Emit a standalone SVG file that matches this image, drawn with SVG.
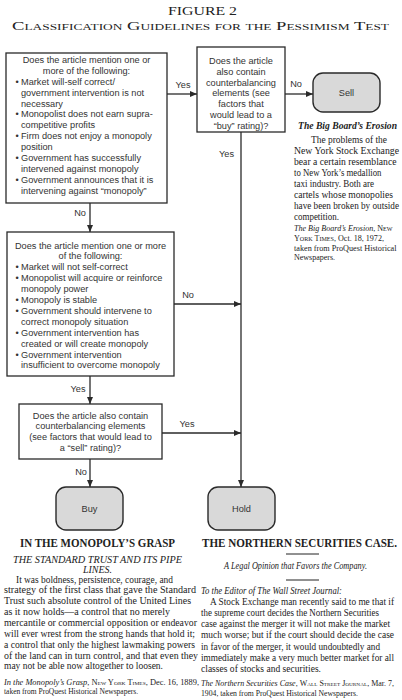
<svg xmlns="http://www.w3.org/2000/svg" width="402" height="700" viewBox="0 0 402 700">
<style>
  .box { fill: #ffffff; stroke: #2a2a2a; stroke-width: 1.3; }
  .term { fill: #d9d9d9; stroke: #2a2a2a; stroke-width: 1.4; }
  .fc { font-family: "Liberation Sans", Arial, sans-serif; font-size: 9.2px; fill: #333; }
  .mid { text-anchor: middle; }
  .lbl { font-family: "Liberation Sans", Arial, sans-serif; font-size: 9.2px; fill: #333; text-anchor: middle; }
  .conn { fill: none; stroke: #2a2a2a; stroke-width: 1.3; }
  .serif { font-family: "Liberation Serif", "Times New Roman", serif; fill: #222; }
  .body { font-size: 9.7px; }
  .body2 { font-size: 9.4px; }
  .cite { font-size: 8px; }
  .cite2 { font-size: 7.6px; }
  .sc { font-variant: small-caps; }
  .it { font-style: italic; }
  .hd { font-size: 11.5px; font-weight: bold; }
</style>
<defs>
  <marker id="arr" markerWidth="7" markerHeight="6" refX="7" refY="3" orient="auto" markerUnits="userSpaceOnUse">
    <path d="M0,0 L7,3 L0,6 z" fill="#2a2a2a"/>
  </marker>
</defs>

<g id="title" class="serif">
  <text x="202.5" y="15" font-size="12.5" text-anchor="middle" textLength="69" lengthAdjust="spacingAndGlyphs">FIGURE 2</text>
  <text x="200.5" y="30" font-size="12.5" text-anchor="middle" class="sc" textLength="377" lengthAdjust="spacingAndGlyphs">Classification Guidelines for the Pessimism Test</text>
</g>

<g id="connectors">
  <path class="conn" d="M167,94 H197" marker-end="url(#arr)"/>
  <path class="conn" d="M285,94 H313" marker-end="url(#arr)"/>
  <path class="conn" d="M90,203 V232" marker-end="url(#arr)"/>
  <path class="conn" d="M241,132 V487" marker-end="url(#arr)"/>
  <path class="conn" d="M174,304 H241" marker-end="url(#arr)"/>
  <path class="conn" d="M90,376 V404" marker-end="url(#arr)"/>
  <path class="conn" d="M162,433 H241" marker-end="url(#arr)"/>
  <path class="conn" d="M90,459 V487" marker-end="url(#arr)"/>
  <text class="lbl" x="183" y="88.3">Yes</text>
  <text class="lbl" x="296" y="87.3">No</text>
  <text class="lbl" x="226.5" y="156.5">Yes</text>
  <text class="lbl" x="80" y="216.3">No</text>
  <text class="lbl" x="188" y="298.3">No</text>
  <text class="lbl" x="78" y="392.3">Yes</text>
  <text class="lbl" x="187" y="427.3">Yes</text>
  <text class="lbl" x="81" y="475.3">No</text>
</g>

<g id="q1">
  <rect class="box" x="6" y="53" width="161" height="150"/>
  <text class="fc mid" x="86.5" y="62.8">Does the article mention one or</text>
  <text class="fc mid" x="86.5" y="73.7">more of the following:</text>
  <text class="fc" x="15.5" y="84.7">•</text><text class="fc" x="21" y="84.7">Market will-self correct/</text>
  <text class="fc" x="21" y="95.6">government intervention is not</text>
  <text class="fc" x="21" y="106.5">necessary</text>
  <text class="fc" x="15.5" y="117.4">•</text><text class="fc" x="21" y="117.4">Monopolist does not earn supra-</text>
  <text class="fc" x="21" y="128.4">competitive profits</text>
  <text class="fc" x="15.5" y="139.3">•</text><text class="fc" x="21" y="139.3">Firm does not enjoy a monopoly</text>
  <text class="fc" x="21" y="150.2">position</text>
  <text class="fc" x="15.5" y="161.2">•</text><text class="fc" x="21" y="161.2">Government has successfully</text>
  <text class="fc" x="21" y="172.1">intervened against monopoly</text>
  <text class="fc" x="15.5" y="183.1">•</text><text class="fc" x="21" y="183.1">Government announces that it is</text>
  <text class="fc" x="21" y="194">intervening against “monopoly”</text>
</g>

<g id="q2">
  <rect class="box" x="197" y="47" width="88" height="85"/>
  <text class="fc mid" x="241" y="64">Does the article</text>
  <text class="fc mid" x="241" y="74.8">also contain</text>
  <text class="fc mid" x="241" y="85.6">counterbalancing</text>
  <text class="fc mid" x="241" y="96.4">elements (see</text>
  <text class="fc mid" x="241" y="107.2">factors that</text>
  <text class="fc mid" x="241" y="118">would lead to a</text>
  <text class="fc mid" x="241" y="128.8">“buy” rating)?</text>
</g>

<g id="sell">
  <rect class="term" x="313" y="73" width="67" height="39" rx="10"/>
  <text class="fc mid" x="346.5" y="95.5" font-size="9.5">Sell</text>
</g>

<g id="q3">
  <rect class="box" x="7" y="232" width="167" height="144"/>
  <text class="fc mid" x="90.5" y="248.5">Does the article mention one or more</text>
  <text class="fc mid" x="90.5" y="259.4">of the following:</text>
  <text class="fc" x="15.5" y="270.3">•</text><text class="fc" x="21" y="270.3">Market will not self-correct</text>
  <text class="fc" x="15.5" y="281.2">•</text><text class="fc" x="21" y="281.2">Monopolist will acquire or reinforce</text>
  <text class="fc" x="21" y="292.1">monopoly power</text>
  <text class="fc" x="15.5" y="303">•</text><text class="fc" x="21" y="303">Monopoly is stable</text>
  <text class="fc" x="15.5" y="313.9">•</text><text class="fc" x="21" y="313.9">Government should intervene to</text>
  <text class="fc" x="21" y="324.8">correct monopoly situation</text>
  <text class="fc" x="15.5" y="335.7">•</text><text class="fc" x="21" y="335.7">Government intervention has</text>
  <text class="fc" x="21" y="346.6">created or will create monopoly</text>
  <text class="fc" x="15.5" y="357.5">•</text><text class="fc" x="21" y="357.5">Government intervention</text>
  <text class="fc" x="21" y="368.4">insufficient to overcome monopoly</text>
</g>

<g id="q4">
  <rect class="box" x="19" y="404" width="143" height="55"/>
  <text class="fc mid" x="90.5" y="418.5">Does the article also contain</text>
  <text class="fc mid" x="90.5" y="429.3">counterbalancing elements</text>
  <text class="fc mid" x="90.5" y="440.1">(see factors that would lead to</text>
  <text class="fc mid" x="90.5" y="450.9">a “sell” rating)?</text>
</g>

<g id="buy">
  <rect class="term" x="56" y="487" width="67" height="43" rx="10"/>
  <text class="fc mid" x="89.5" y="512" font-size="9.5">Buy</text>
</g>

<g id="hold">
  <rect class="term" x="208" y="487" width="67" height="43" rx="10"/>
  <text class="fc mid" x="241.5" y="512" font-size="9.5">Hold</text>
</g>

<g id="clip-big-board" class="serif">
  <text x="347.5" y="129" font-size="10" font-weight="bold" font-style="italic" text-anchor="middle" textLength="99" lengthAdjust="spacingAndGlyphs">The Big Board’s Erosion</text>
  <text class="body2" x="311" y="143.3" textLength="76" lengthAdjust="spacingAndGlyphs">The problems of the</text>
  <text class="body2" x="294" y="154.2" textLength="105" lengthAdjust="spacingAndGlyphs">New York Stock Exchange</text>
  <text class="body2" x="294" y="165.1" textLength="102.5" lengthAdjust="spacingAndGlyphs">bear a certain resemblance</text>
  <text class="body2" x="294" y="176" textLength="87.5" lengthAdjust="spacingAndGlyphs">to New York’s medallion</text>
  <text class="body2" x="294" y="186.9" textLength="80" lengthAdjust="spacingAndGlyphs">taxi industry. Both are</text>
  <text class="body2" x="294" y="197.8" textLength="99" lengthAdjust="spacingAndGlyphs">cartels whose monopolies</text>
  <text class="body2" x="294" y="208.7" font-size="9" textLength="105" lengthAdjust="spacingAndGlyphs">have been broken by outside</text>
  <text class="body2" x="294" y="219.6" textLength="45" lengthAdjust="spacingAndGlyphs">competition.</text>
  <text class="cite" x="294" y="231" textLength="98.5" lengthAdjust="spacingAndGlyphs"><tspan class="it">The Big Board’s Erosion</tspan>, <tspan class="sc">New</tspan></text>
  <text class="cite" x="294" y="241" textLength="90" lengthAdjust="spacingAndGlyphs"><tspan class="sc">York Times</tspan>, Oct. 18, 1972,</text>
  <text class="cite" x="294" y="250.5" textLength="102.5" lengthAdjust="spacingAndGlyphs">taken from ProQuest Historical</text>
  <text class="cite" x="294" y="259.5">Newspapers.</text>
</g>

<g id="clip-monopoly" class="serif">
  <text x="97.5" y="546.5" font-size="12.5" font-weight="bold" text-anchor="middle" textLength="155" lengthAdjust="spacingAndGlyphs">IN THE MONOPOLY’S GRASP</text>
  <text class="it" x="97.5" y="563" font-size="10" text-anchor="middle" textLength="169" lengthAdjust="spacingAndGlyphs">THE STANDARD TRUST AND ITS PIPE</text>
  <text class="it" x="97.5" y="572.5" font-size="10" text-anchor="middle">LINES.</text>
  <text class="body" x="16" y="582.6" textLength="157" lengthAdjust="spacingAndGlyphs">It was boldness, persistence, courage, and</text>
  <text class="body" x="4" y="593.4" textLength="192" lengthAdjust="spacingAndGlyphs">strategy of the first class that gave the Standard</text>
  <text class="body" x="4" y="604.3" textLength="187" lengthAdjust="spacingAndGlyphs">Trust such absolute control of the United Lines</text>
  <text class="body" x="4" y="615.1" textLength="166" lengthAdjust="spacingAndGlyphs">as it now holds—a control that no merely</text>
  <text class="body" x="4" y="626" textLength="193" lengthAdjust="spacingAndGlyphs">mercantile or commercial opposition or endeavor</text>
  <text class="body" x="4" y="636.8" textLength="191" lengthAdjust="spacingAndGlyphs">will ever wrest from the strong hands that hold it;</text>
  <text class="body" x="4" y="647.6" textLength="191" lengthAdjust="spacingAndGlyphs">a control that only the highest lawmaking powers</text>
  <text class="body" x="4" y="658.5" textLength="194" lengthAdjust="spacingAndGlyphs">of the land can in turn control, and that even they</text>
  <text class="body" x="4" y="669.3" textLength="159" lengthAdjust="spacingAndGlyphs">may not be able now altogether to loosen.</text>
  <text class="cite2" x="4" y="684.7" textLength="195" lengthAdjust="spacingAndGlyphs"><tspan class="it">In the Monopoly’s Grasp</tspan>, <tspan class="sc">New York Times</tspan>, Dec. 16, 1889,</text>
  <text class="cite" x="4" y="693.7" textLength="134" lengthAdjust="spacingAndGlyphs">taken from ProQuest Historical Newspapers.</text>
</g>

<g id="clip-northern" class="serif">
  <text class="hd" x="299.5" y="546.5" text-anchor="middle" textLength="195" lengthAdjust="spacingAndGlyphs">THE NORTHERN SECURITIES CASE.</text>
  <line x1="286" y1="554" x2="319" y2="554" stroke="#222" stroke-width="1"/>
  <text class="body it" x="295.5" y="569" text-anchor="middle" textLength="143" lengthAdjust="spacingAndGlyphs">A Legal Opinion that Favors the Company.</text>
  <line x1="286" y1="580" x2="319" y2="580" stroke="#222" stroke-width="1"/>
  <text class="body it" x="201" y="594" textLength="141" lengthAdjust="spacingAndGlyphs">To the Editor of The Wall Street Journal:</text>
  <text class="body" x="210" y="605.3" textLength="184" lengthAdjust="spacingAndGlyphs">A Stock Exchange man recently said to me that if</text>
  <text class="body" x="201" y="616.3" textLength="178" lengthAdjust="spacingAndGlyphs">the supreme court decides the Northern Securities</text>
  <text class="body" x="201" y="627.4" textLength="189" lengthAdjust="spacingAndGlyphs">case against the merger it will not make the market</text>
  <text class="body" x="201" y="638.4" textLength="193" lengthAdjust="spacingAndGlyphs">much worse; but if the court should decide the case</text>
  <text class="body" x="201" y="649.5" textLength="179" lengthAdjust="spacingAndGlyphs">in favor of the merger, it would undoubtedly and</text>
  <text class="body" x="201" y="660.5" textLength="193" lengthAdjust="spacingAndGlyphs">immediately make a very much better market for all</text>
  <text class="body" x="201" y="671.6" textLength="120" lengthAdjust="spacingAndGlyphs">classes of stocks and securities.</text>
  <text class="cite2" x="201" y="685.7" textLength="193" lengthAdjust="spacingAndGlyphs"><tspan class="it">The Northern Securities Case</tspan>, <tspan class="sc">Wall Street Journal</tspan>, Mar. 7,</text>
  <text class="cite" x="201" y="695.7" textLength="157" lengthAdjust="spacingAndGlyphs">1904, taken from ProQuest Historical Newspapers.</text>
</g>
</svg>
